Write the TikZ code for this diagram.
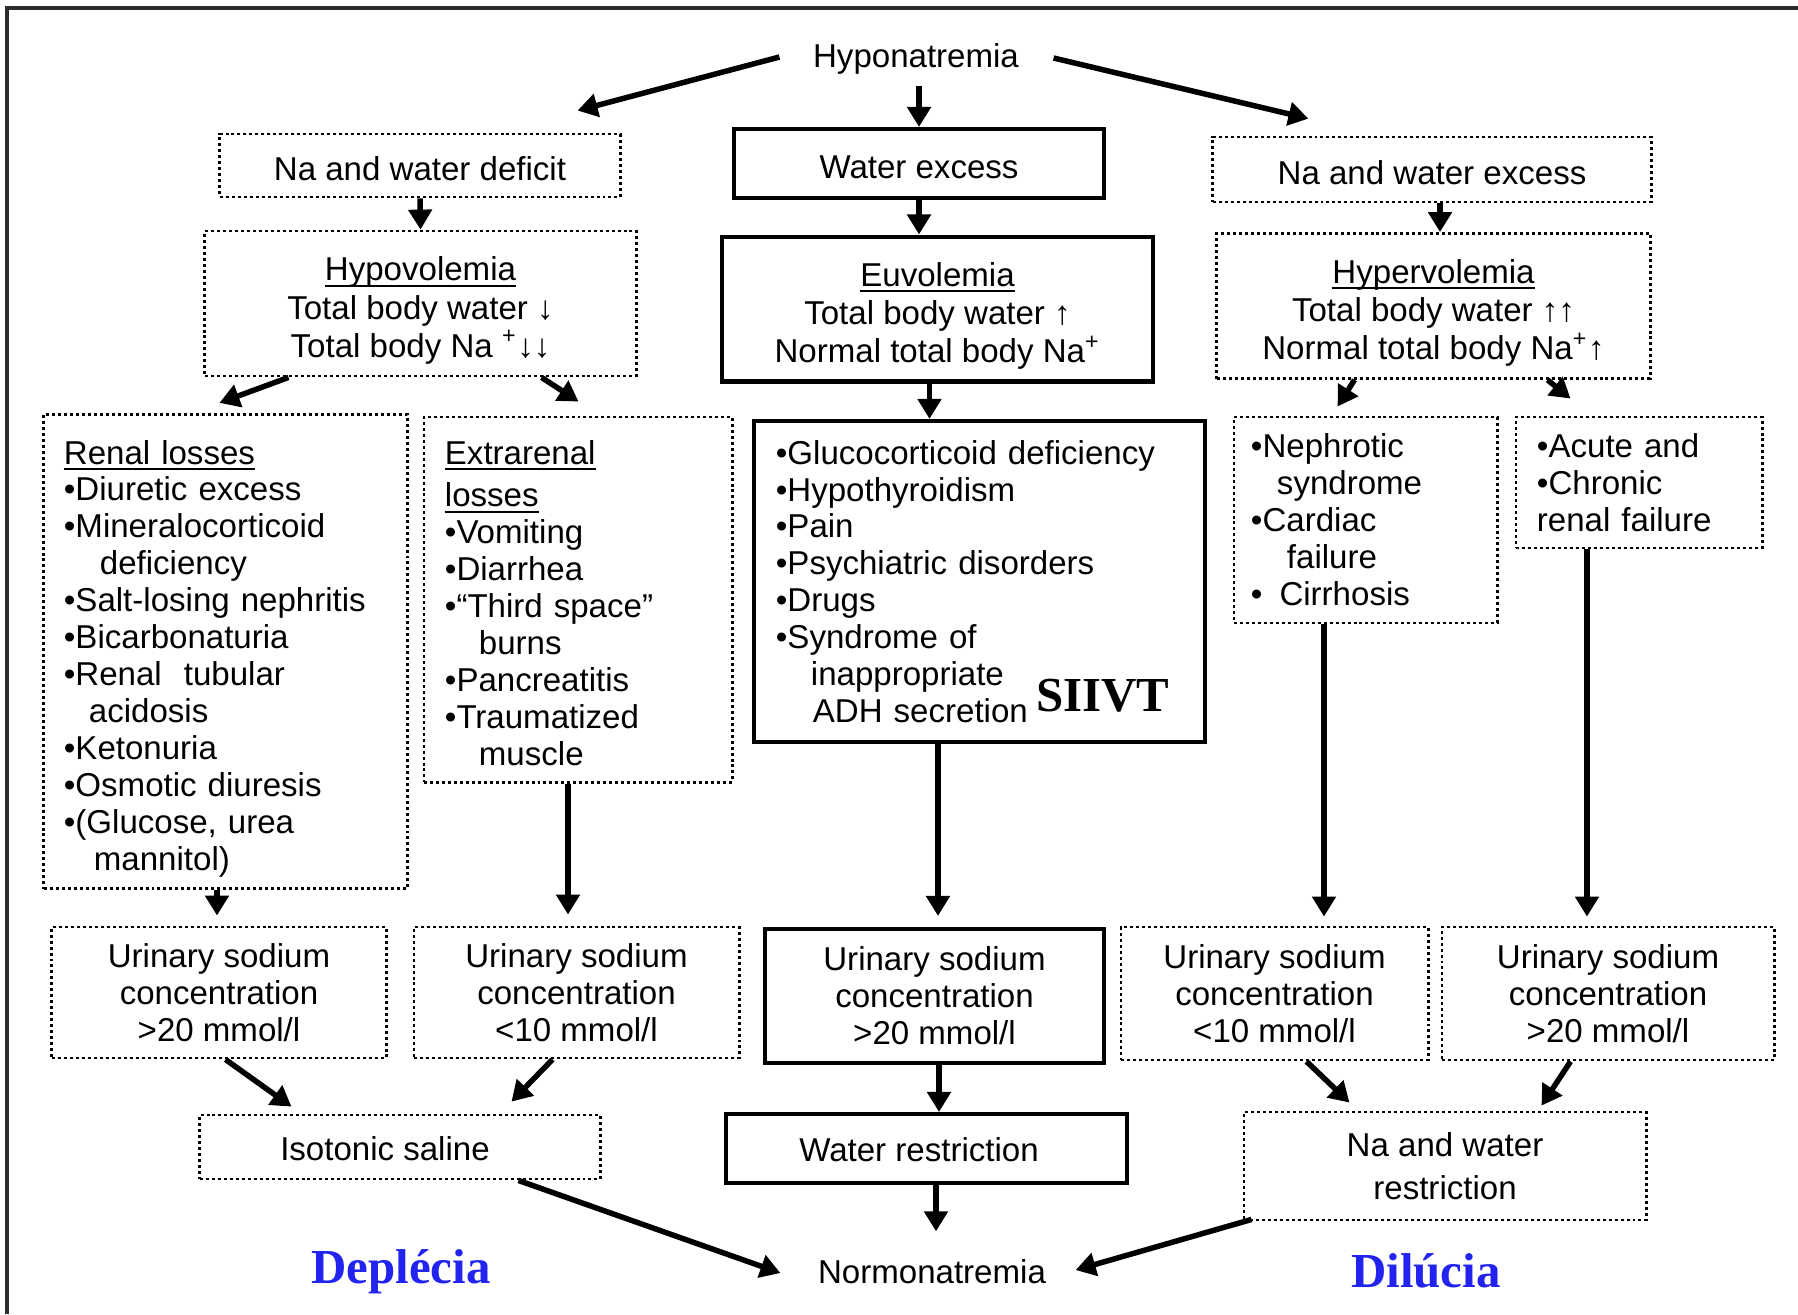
\documentclass[tikz,border=0pt]{standalone}
\usepackage{fontspec}
\setmainfont{Liberation Sans}
\newfontfamily\serifb{Liberation Serif}
\usetikzlibrary{arrows.meta}
\definecolor{labblue}{RGB}{35,35,240}
\definecolor{framegray}{RGB}{45,45,45}
\newcommand{\topstrut}[1]{\leavevmode\rule{0pt}{#1}}
\newcommand{\ulx}[1]{\leavevmode\setbox0=\hbox{#1}\rlap{\rule[-0.06cm]{\wd0}{0.022cm}}\box0}
\begin{document}
\begin{tikzpicture}[x=0.01cm,y=-0.01cm,
  txt/.style={font={\fontsize{9.4}{10.5}\selectfont\lineskiplimit=-20pt}},
  voltxt/.style={font={\fontsize{9.4}{10.9}\selectfont\lineskiplimit=-20pt}},
  dotbox/.style={txt, draw, line width=0.8pt, dash pattern=on 0.85pt off 0.85pt},
  solidbox/.style={txt, draw, line width=1.15pt},
  plain/.style={txt, inner sep=0pt},
  bigserif/.style={inner sep=0pt, font={\serifb\bfseries\fontsize{13.9}{14}\selectfont}},
  arr/.style={-{Triangle[length=0.2cm,width=0.23cm]}, line width=0.055cm}
]
\fill[white] (0,0) rectangle (1798,1314);
\useasboundingbox (0,0) rectangle (1798,1314);
\draw[framegray, line width=0.035cm] (7,1314) -- (7,8) -- (1798,8);

% top level
\node[plain, anchor=base] (hypo) at (916,67) {Hyponatremia};
\node[dotbox, minimum width=4.00cm, minimum height=0.63cm] (nadef) at (420,165.5) {\topstrut{0.30cm}Na and water deficit};
\node[solidbox, minimum width=3.70cm, minimum height=0.69cm] (wex) at (919,163.5) {\topstrut{0.30cm}Water excess};
\node[dotbox, minimum width=4.38cm, minimum height=0.65cm] (naex) at (1432,169.5) {\topstrut{0.30cm}Na and water excess};

% volemia
\node[dotbox, voltxt, align=center, minimum width=4.31cm, minimum height=1.37cm] (hypovol) at (420.5,303.5)
  {\topstrut{0.38cm}\ulx{Hypovolemia}\\Total body water ↓\\Total body Na \textsuperscript{+}↓↓};
\node[solidbox, voltxt, align=center, minimum width=4.31cm, minimum height=1.42cm] (euvol) at (937.5,309)
  {\topstrut{0.38cm}\ulx{Euvolemia}\\Total body water ↑\\Normal total body Na\textsuperscript{+}};
\node[dotbox, voltxt, align=center, minimum width=4.33cm, minimum height=1.38cm] (hyper) at (1433.5,306)
  {\topstrut{0.38cm}\ulx{Hypervolemia}\\Total body water ↑↑\\Normal total body Na\textsuperscript{+}↑};

% causes
\node[dotbox, align=left, inner xsep=0.20cm, text width=3.23cm, minimum height=4.69cm] (renal) at (225.5,651.5)
  {\topstrut{0.38cm}\ulx{Renal losses}\\
   •Diuretic excess\\
   •Mineralocorticoid\\
   \hspace*{0.36cm}deficiency\\
   •Salt-losing nephritis\\
   •Bicarbonaturia\\
   •Renal\ \ tubular\\
   \hspace*{0.25cm}acidosis\\
   •Ketonuria\\
   •Osmotic diuresis\\
   •(Glucose, urea\\
   \hspace*{0.30cm}mannitol)};
\node[dotbox, align=left, inner xsep=0.21cm, text width=2.66cm, minimum height=3.65cm] (extra) at (578,599.5)
  {\topstrut{0.31cm}\ulx{Extrarenal}\\[0.055cm]
   \ulx{losses}\\
   •Vomiting\\
   •Diarrhea\\
   •“Third space”\\
   \hspace*{0.34cm}burns\\
   •Pancreatitis\\
   •Traumatized\\
   \hspace*{0.34cm}muscle};
\node[solidbox, align=left, inner xsep=0.22cm, text width=4.07cm, minimum height=3.21cm] (gluc) at (979.5,581.5)
  {•Glucocorticoid deficiency\\
   •Hypothyroidism\\
   •Pain\\
   •Psychiatric disorders\\
   •Drugs\\
   •Syndrome of\\
   \hspace*{0.35cm}inappropriate\\
   \hspace*{0.37cm}ADH secretion};
\node[bigserif, anchor=base] (siivt) at (1103,711) {SIIVT};
\node[dotbox, align=left, inner xsep=0.17cm, text width=2.29cm, minimum height=2.06cm] (neph) at (1365.5,520)
  {•Nephrotic\\
   \hspace*{0.26cm}syndrome\\
   •Cardiac\\
   \hspace*{0.36cm}failure\\
   •\hspace*{0.17cm}Cirrhosis};
\node[dotbox, align=left, inner xsep=0.21cm, text width=2.04cm, minimum height=1.31cm] (acute) at (1639,482.5)
  {•Acute and\\
   •Chronic\\
   renal failure};

% urinary sodium
\node[dotbox, align=center, minimum width=3.34cm, minimum height=1.31cm] (ura) at (219,992.5)
  {Urinary sodium\\concentration\\>20 mmol/l};
\node[dotbox, align=center, minimum width=3.25cm, minimum height=1.31cm] (urb) at (576.5,992.5)
  {Urinary sodium\\concentration\\<10 mmol/l};
\node[solidbox, align=center, minimum width=3.39cm, minimum height=1.34cm] (urc) at (934.5,996)
  {Urinary sodium\\concentration\\>20 mmol/l};
\node[dotbox, align=center, minimum width=3.07cm, minimum height=1.33cm] (urd) at (1274.5,993.5)
  {Urinary sodium\\concentration\\<10 mmol/l};
\node[dotbox, align=center, minimum width=3.32cm, minimum height=1.33cm] (ure) at (1608,993.5)
  {Urinary sodium\\concentration\\>20 mmol/l};

% treatment
\node[dotbox, minimum width=4.00cm, minimum height=0.64cm] (isot) at (400,1147) {\topstrut{0.28cm}Isotonic saline\hspace*{0.3cm}};
\node[solidbox, minimum width=4.01cm, minimum height=0.69cm] (wres) at (926.5,1148.5) {\topstrut{0.27cm}Water restriction\hspace*{0.15cm}};
\node[dotbox, align=center, font={\fontsize{9.4}{12.4}\selectfont}, minimum width=4.02cm, minimum height=1.08cm] (nwr) at (1445,1166)
  {Na and water\\restriction};

\node[plain, anchor=base] (normo) at (932,1283) {Normonatremia};
\node[bigserif, text=labblue, anchor=base] (deplecia) at (401,1283) {Deplécia};
\node[bigserif, text=labblue, anchor=base] (dilucia) at (1426,1287) {Dilúcia};

% connectors
\draw[arr] ([shift={(-33,-10)}]hypo.base west) -- ([shift={(-44,-22)}]nadef.north east);
\draw[arr] ([shift={(3,11)}]hypo.south) -- (wex.north);
\draw[arr] ([shift={(34,-9)}]hypo.base east) -- ([shift={(97,-17)}]naex.north west);

\draw[arr] (nadef.south) -- (hypovol.north);
\draw[arr] (wex.south) -- (wex.south |- euvol.north);
\coordinate (c6) at ([xshift=0.08cm]naex.south);
\draw[arr] (c6) -- (c6 |- hyper.north);

\draw[arr] ([shift={(85,0)}]hypovol.south west) -- ([shift={(177,-10)}]renal.north west);
\draw[arr] ([shift={(-96,0)}]hypovol.south east) -- ([shift={(-155,-14)}]extra.north east);
\coordinate (c9) at ([xshift=-0.08cm]euvol.south);
\draw[arr] (c9) -- (c9 |- gluc.north);
\draw[arr] ([shift={(139,0)}]hyper.south west) -- ([shift={(105,-9)}]neph.north west);
\draw[arr] ([shift={(-104,0)}]hyper.south east) -- ([shift={(56,-17)}]acute.north west);

\coordinate (c12) at ([xshift=-0.085cm]renal.south);
\draw[arr, shorten >=0.1cm] (c12) -- (c12 |- ura.north);
\coordinate (c13) at ([xshift=-0.10cm]extra.south);
\draw[arr, shorten >=0.11cm] (c13) -- (c13 |- urb.north);
\coordinate (c14) at ([xshift=-0.415cm]gluc.south);
\draw[arr, shorten >=0.11cm] (c14) -- (c14 |- urc.north);
\coordinate (c15) at ([xshift=-0.415cm]neph.south);
\draw[arr, shorten >=0.09cm] (c15) -- (c15 |- urd.north);
\coordinate (c16) at ([xshift=-0.52cm]acute.south);
\draw[arr, shorten >=0.09cm] (c16) -- (c16 |- ure.north);

\draw[arr] ([shift={(175,0)}]ura.south west) -- ([shift={(93,-7)}]isot.north west);
\draw[arr] ([shift={(140,0)}]urb.south west) -- ([shift={(313,-12)}]isot.north west);
\coordinate (c19) at ([xshift=0.045cm]urc.south);
\draw[arr] (c19) -- (c19 |- wres.north);
\draw[arr] ([shift={(187,0)}]urd.south west) -- ([shift={(107,-8)}]nwr.north west);
\draw[arr] ([shift={(130,0)}]ure.south west) -- ([shift={(299,-5)}]nwr.north west);

\coordinate (c20) at ([xshift=0.095cm]wres.south);
\draw[arr, shorten >=0.27cm] (c20) -- (c20 |- normo.north);
\draw[arr] ([shift={(320,0)}]isot.south west) -- ([shift={(-37,-10)}]normo.base west);
\draw[arr] ([shift={(9,-2)}]nwr.south west) -- ([shift={(29,-13)}]normo.base east);
\end{tikzpicture}
\end{document}
